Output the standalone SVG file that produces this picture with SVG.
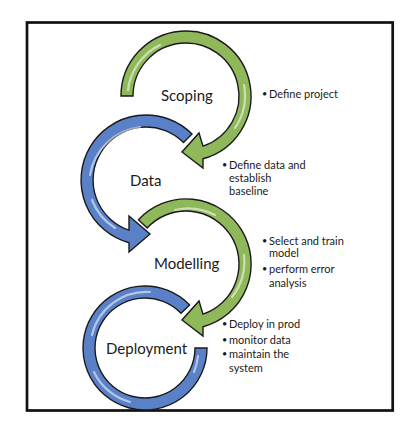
<svg xmlns="http://www.w3.org/2000/svg" width="410" height="432" viewBox="0 0 410 432">
<style>
.frame{fill:none;stroke:#111;stroke-width:2.7}
.green{fill:#8fb85a;stroke:#1a1a1a;stroke-width:1.4;stroke-linejoin:miter}
.blue{fill:#5a80c8;stroke:#1a1a1a;stroke-width:1.4;stroke-linejoin:miter}
.hl{fill:none;stroke:#ffffff;stroke-opacity:0.55;stroke-width:2.2;stroke-linecap:round}
.label{font-family:Lato,"Liberation Sans",sans-serif;font-size:15px;fill:#1a1a1a}
.bul{font-family:Lato,"Liberation Sans",sans-serif;font-size:11px;fill:#1a1a1a}
.dot{font-size:9px}
</style>
<rect width="410" height="432" fill="#ffffff"/>
<rect class="frame" x="27" y="22.5" width="365.7" height="388"/>
<g id="connectors">
  <path id="arrow-scoping" class="green" d="M 121 96 A 65 65 0 1 1 203 158.7 L 203 168 L 182 152 L 199 133 L 203 146.2 A 53 53 0 1 0 133 96 Z"/>
  <path class="hl" d="M 128 90 A 58 58 0 0 1 160 45"/>
  <path class="hl" d="M 244 85 A 58 58 0 0 1 235 128"/>
  <path id="arrow-data" class="blue" d="M 192 134 A 65 65 0 1 0 129 242.7 L 129 252 L 150 234 L 129 216 L 129 230.2 A 53 53 0 1 1 183.5 142.5 Z"/>
  <path class="hl" d="M 140 127 A 58 58 0 0 0 90 175"/>
  <path class="hl" d="M 92 200 A 58 58 0 0 0 115 228"/>
  <path id="arrow-modelling" class="green" d="M 138.5 219.7 A 65 65 0 1 1 203 326.7 L 203 336 L 182 320 L 199 301 L 203 314.2 A 53 53 0 1 0 147.2 227.9 Z"/>
  <path class="hl" d="M 175 210 A 58 58 0 0 1 215 215"/>
  <path class="hl" d="M 244 255 A 58 58 0 0 1 232 297"/>
  <path id="arrow-deployment" class="blue" d="M 189.6 304.9 A 62 62 0 1 0 207 348 L 195 348 A 50 50 0 1 1 181 313.3 Z"/>
  <path class="hl" d="M 150 292 A 56 56 0 0 0 92 335"/>
  <path class="hl" d="M 94 372 A 56 56 0 0 0 130 402"/>
  <path class="hl" d="M 198 356 A 56 56 0 0 1 194 372"/>
</g>
<g id="scoping">
  <text class="label" x="161" y="101">Scoping</text>
  <text class="bul" x="262" y="97"><tspan class="dot">•</tspan><tspan x="269" y="98">Define project</tspan></text>
</g>
<g id="data">
  <text class="label" x="130" y="186">Data</text>
  <text class="bul" x="222" y="168"><tspan class="dot">•</tspan><tspan x="229" y="169">Define data and</tspan></text>
  <text class="bul" x="229" y="182">establish</text>
  <text class="bul" x="229" y="195">baseline</text>
</g>
<g id="modelling">
  <text class="label" x="154" y="269">Modelling</text>
  <text class="bul" x="262" y="244"><tspan class="dot">•</tspan><tspan x="269" y="245">Select and train</tspan></text>
  <text class="bul" x="269" y="257">model</text>
  <text class="bul" x="262" y="272"><tspan class="dot">•</tspan><tspan x="269" y="273">perform error</tspan></text>
  <text class="bul" x="269" y="287">analysis</text>
</g>
<g id="deployment">
  <text class="label" x="106" y="354">Deployment</text>
  <text class="bul" x="222" y="327"><tspan class="dot">•</tspan><tspan x="229" y="328">Deploy in prod</tspan></text>
  <text class="bul" x="222" y="343"><tspan class="dot">•</tspan><tspan x="229" y="344">monitor data</tspan></text>
  <text class="bul" x="222" y="357"><tspan class="dot">•</tspan><tspan x="229" y="358">maintain the</tspan></text>
  <text class="bul" x="229" y="372">system</text>
</g>
</svg>
